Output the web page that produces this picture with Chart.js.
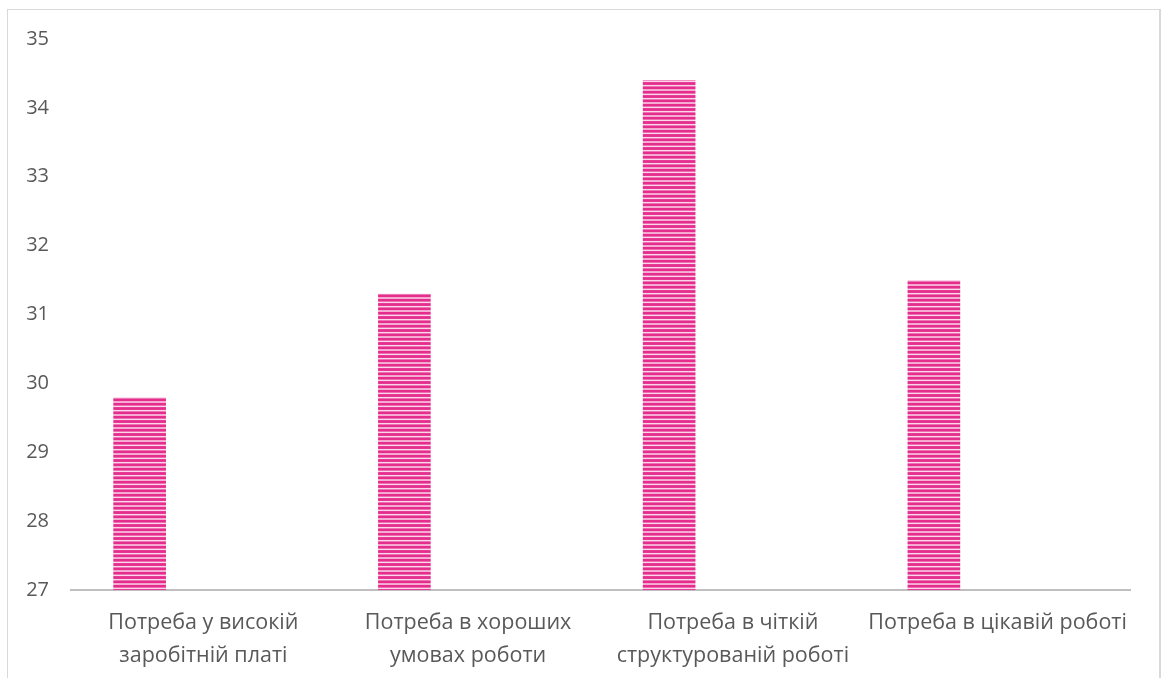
<!DOCTYPE html>
<html>
<head>
<meta charset="utf-8">
<script src="https://cdn.jsdelivr.net/npm/chart.js@4/dist/chart.umd.min.js"></script>
<style>
  html, body { margin: 0; padding: 0; background: #ffffff; overflow: hidden; }
  #frame {
    position: absolute; left: 7px; top: 9px; width: 1151px; height: 720px;
    border: 1px solid #d9d9d9; border-right: 2px solid #d9d9d9; box-sizing: content-box;
  }
  #chart { position: absolute; left: 0; top: 0; }
</style>
</head>
<body>
<div id="frame"></div>
<canvas id="chart" width="1166" height="678"></canvas>
<script>
// Categories (multi-line labels) and values
const categories = [
  ['Потреба у високій', 'заробітній платі'],
  ['Потреба в хороших', 'умовах роботи'],
  ['Потреба в чіткій', 'структурованій роботі'],
  ['Потреба в цікавій роботі']
];
const needScores = [29.8, 31.3, 34.4, 31.5];
// second series slot left blank in the workbook
const blankSeries = [null, null, null, null];
const yTicks = [27, 28, 29, 30, 31, 32, 33, 34, 35];

// Horizontal narrow-stripe fill
function stripePattern(ctx) {
  const tile = document.createElement('canvas');
  tile.width = 4; tile.height = 13;
  const t = tile.getContext('2d');
  t.fillStyle = '#e42d8d';
  t.fillRect(0, 0, 4, 13);
  t.fillStyle = 'rgba(252, 222, 238, 0.95)';
  [0, 4.33, 8.67].forEach(y => t.fillRect(0, y + 2.6, 4, 1.5));
  return ctx.createPattern(tile, 'repeat');
}

const canvas = document.getElementById('chart');
const ctx = canvas.getContext('2d');
const fill = stripePattern(ctx);

new Chart(ctx, {
  type: 'bar',
  data: {
    labels: categories,
    datasets: [
      { data: needScores, backgroundColor: fill, borderWidth: 0,
        categoryPercentage: 0.963, barPercentage: 0.413 },
      { data: blankSeries, backgroundColor: fill, borderWidth: 0,
        categoryPercentage: 0.963, barPercentage: 0.413 }
    ]
  },
  options: {
    responsive: false,
    animation: false,
    devicePixelRatio: 1,
    layout: { padding: { left: 0, top: 39, right: 36, bottom: 0 } },
    plugins: { legend: { display: false }, tooltip: { enabled: false } },
    scales: {
      x: {
        grid: { display: false, drawTicks: false },
        border: { display: true, color: '#bfbfbf', width: 2 },
        ticks: {
          color: '#595959', padding: 17, maxRotation: 0, autoSkip: false,
          font: { family: 'Open Sans', size: 21.5, lineHeight: 1.5 }
        },
        afterFit: s => { s.height = 88; }
      },
      y: {
        min: 27, max: 35,
        afterBuildTicks: s => { s.ticks = yTicks.map(v => ({ value: v })); },
        grid: { display: false, drawTicks: false },
        border: { display: false },
        ticks: {
          color: '#595959', padding: 22,
          font: { family: 'Open Sans', size: 20 }
        },
        afterFit: s => { s.width = 71; }
      }
    }
  }
});
</script>
</body>
</html>
